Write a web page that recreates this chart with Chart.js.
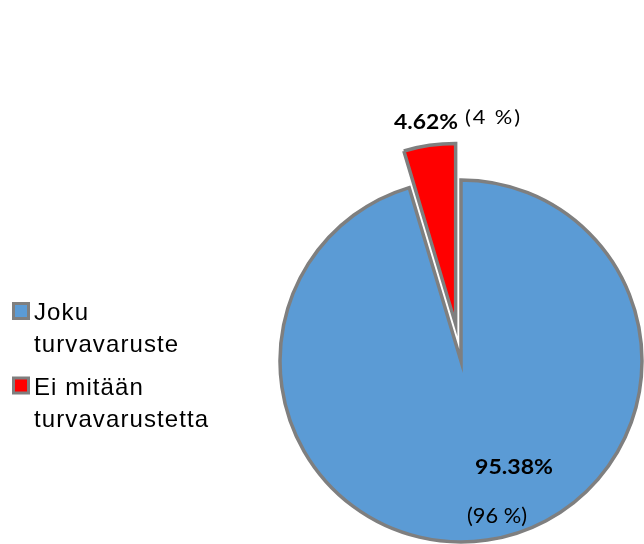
<!DOCTYPE html>
<html><head><meta charset="utf-8">
<script src="https://cdn.jsdelivr.net/npm/chart.js@4.4.1/dist/chart.umd.min.js"></script>
<style>html,body{margin:0;padding:0;background:#fff;} canvas{display:block;}</style>
</head><body>
<canvas id="c" width="644" height="544"></canvas>
<script>
// ---- data ----
const categories = [["Joku", "turvavaruste"], ["Ei mitään", "turvavarustetta"]];
const values = [95.38, 4.62];
const roundedLabels = ["(96 %)", "(4 %)"];
const colors = ["#5b9bd5", "#ff0000"];
const explode = [0, 37];

const BORDER = "#7f7f7f";

const explodePlugin = {
  id: 'explode',
  afterDatasetsUpdate(chart) {
    const meta = chart.getDatasetMeta(0);
    meta.data.forEach((arc, i) => {
      const d = explode[i] || 0;
      if (!d) return;
      const mid = (arc.startAngle + arc.endAngle) / 2;
      arc.x += Math.cos(mid) * d;
      arc.y += Math.sin(mid) * d;
    });
  }
};

// label placement relative to pie centre: [dx, dy, font, width]
const labelLayout = [
  { pct: [14, 113, 'bold 21.5px Lato', 78], rnd: [6, 162, '22px Lato', 60] },
  { pct: [-67, -232, 'bold 20.5px Lato', 64], rnd: [4, -237, '19px Lato', 55] }
];
const SX = 1.15;

function drawFit(ctx, text, x, y, font, width) {
  ctx.font = font;
  ctx.letterSpacing = '0px';
  const nat = ctx.measureText(text).width;
  let ls = (width / SX - nat) / Math.max(text.length - 1, 1);
  let sx = SX;
  if (ls < 0) { ls = 0; sx = width / nat; }
  ctx.letterSpacing = ls + 'px';
  ctx.save();
  ctx.translate(x, y);
  ctx.scale(sx, 1);
  ctx.fillText(text, 0, 0);
  ctx.restore();
}

const labelPlugin = {
  id: 'labels',
  afterDraw(chart) {
    const ctx = chart.ctx;
    const meta = chart.getDatasetMeta(0);
    const cx = meta.data[0].x, cy = meta.data[0].y;
    ctx.save();
    ctx.fillStyle = '#000';
    ctx.textBaseline = 'alphabetic';
    ctx.textAlign = 'left';
    values.forEach((v, i) => {
      const L = labelLayout[i];
      drawFit(ctx, v.toFixed(2) + '%', cx + L.pct[0], cy + L.pct[1], L.pct[2], L.pct[3]);
      drawFit(ctx, roundedLabels[i], cx + L.rnd[0], cy + L.rnd[1], L.rnd[2], L.rnd[3]);
    });
    // legend
    const lx = 12, tx = 34, firstBase = 320, lineH = 32, itemStep = 74.5, box = 18;
    ctx.font = '24px "Liberation Sans", Arial, sans-serif';
    ctx.letterSpacing = '1.1px';
    categories.forEach((lines, i) => {
      const base = firstBase + i * itemStep;
      ctx.fillStyle = BORDER;
      ctx.fillRect(lx, base - box, box, box);
      ctx.fillStyle = colors[i];
      ctx.fillRect(lx + 3, base - box + 3, box - 6, box - 6);
      ctx.fillStyle = '#000';
      lines.forEach((t, j) => ctx.fillText(t, tx, base + j * lineH));
    });
    ctx.restore();
  }
};

new Chart(document.getElementById('c'), {
  type: 'pie',
  data: {
    labels: categories.map(l => l.join(' ')),
    datasets: [{
      data: values,
      backgroundColor: colors,
      borderColor: BORDER,
      borderWidth: 3.5,
      borderJoinStyle: 'miter'
    }]
  },
  options: {
    responsive: false,
    devicePixelRatio: 1,
    animation: false,
    radius: 181,
    layout: { padding: { left: 300, right: 22, top: 180, bottom: 2 } },
    plugins: { legend: { display: false }, tooltip: { enabled: false } },
    events: []
  },
  plugins: [explodePlugin, labelPlugin]
});
</script>
</body></html>
